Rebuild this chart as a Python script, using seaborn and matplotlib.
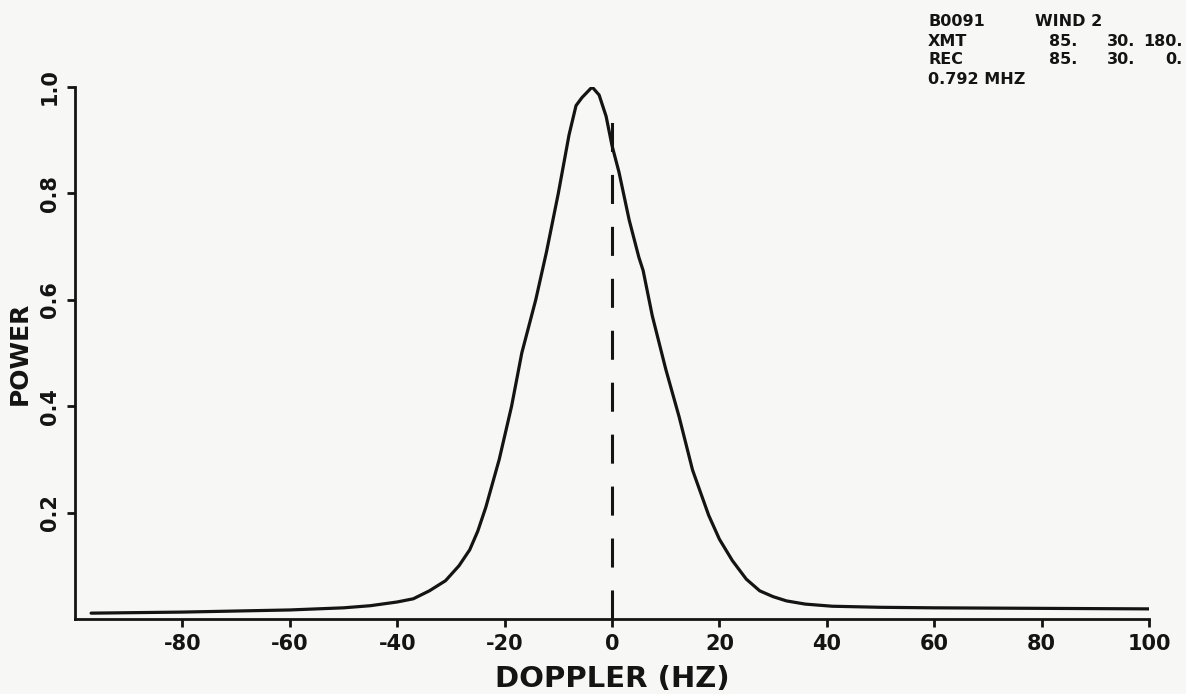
import pandas as pd
import seaborn as sns
import matplotlib.pyplot as plt

# doppler spectrum
doppler_hz = [-97, -80, -60, -50, -45, -40, -37, -34, -31, -28.5, -26.5, -25, -23.5,
              -21, -18.7, -16.8, -14.2, -12.2, -10, -8, -6.7, -5.6, -3.7, -2.4, -1.1,
              0, 1.3, 3.2, 5, 5.8, 7.5, 10, 12.5, 15, 18, 20, 22.4, 25, 27.5, 30,
              32.5, 36, 41, 50, 60, 80, 100]
power = [0.011, 0.013, 0.017, 0.021, 0.025, 0.032, 0.038, 0.053, 0.072, 0.10, 0.13, 0.165, 0.21,
         0.30, 0.40, 0.50, 0.60, 0.69, 0.80, 0.91, 0.965, 0.98, 1.0, 0.985, 0.945,
         0.89, 0.84, 0.75, 0.68, 0.655, 0.57, 0.47, 0.38, 0.28, 0.195, 0.15, 0.11, 0.075, 0.053, 0.042,
         0.034, 0.028, 0.024, 0.022, 0.021, 0.020, 0.019]

zero_line_x = [0]
zero_line_top = 0.96

x_ticks = [-80, -60, -40, -20, 0, 20, 40, 60, 80, 100]
y_ticks = [0.2, 0.4, 0.6, 0.8, 1.0]

header_left = ["B0091", "XMT", "REC", "0.792 MHZ"]
header_mid = ["WIND 2", "85.", "85.", ""]
header_c3 = ["", "30.", "30.", ""]
header_c4 = ["", "180.", "0.", ""]

W, H = 1186, 694
ink = "#141414"
paper = "#f7f7f5"

sns.set_theme(style="ticks")
plt.rcParams["font.family"] = ["DejaVu Sans"]
plt.rcParams["font.weight"] = "bold"

fig = plt.figure(figsize=(W / 100, H / 100), dpi=100, facecolor=paper)
ax = fig.add_axes([75 / W, 1 - 619 / H, (1149 - 75) / W, (619 - 87) / H], facecolor=paper)

df = pd.DataFrame({"doppler": doppler_hz, "power": power})
sns.lineplot(data=df, x="doppler", y="power", ax=ax, color=ink, linewidth=2.3)
ax.vlines(zero_line_x, 0, zero_line_top, colors=ink, linestyles=(0, (9.5, 7.5)), linewidth=2.2)

ax.set_xlim(-100, 100)
ax.set_ylim(0, 1.0)
for side in ["top", "right"]:
    ax.spines[side].set_visible(False)
for side in ["left", "bottom"]:
    ax.spines[side].set_linewidth(2)
    ax.spines[side].set_color(ink)

ax.set_xticks(x_ticks, labels=[str(v) for v in x_ticks])
ax.set_yticks(y_ticks, labels=[f"{v:.1f}" for v in y_ticks])
for lab in ax.get_yticklabels():
    lab.set_rotation(90)
    lab.set_va("center")
ax.tick_params(direction="out", length=6, width=2, colors=ink, labelsize=15, pad=5)

ax.set_xlabel("DOPPLER (HZ)", fontsize=21, fontweight="bold", color=ink, labelpad=8)
ax.set_ylabel("POWER", fontsize=18, fontweight="bold", color=ink, labelpad=6)

# header block, top right
row_y = [21, 41, 60, 79]
for i, y in enumerate(row_y):
    kw = dict(fontsize=11.5, fontweight="bold", color=ink, va="center")
    fig.text(928 / W, 1 - y / H, header_left[i], ha="left", **kw)
    if i == 0:
        fig.text(1035 / W, 1 - y / H, header_mid[i], ha="left", **kw)
    else:
        fig.text(1077 / W, 1 - y / H, header_mid[i], ha="right", **kw)
    fig.text(1135 / W, 1 - y / H, header_c3[i], ha="right", **kw)
    fig.text(1183 / W, 1 - y / H, header_c4[i], ha="right", **kw)

fig.savefig("out.png", dpi=100, facecolor=paper)
